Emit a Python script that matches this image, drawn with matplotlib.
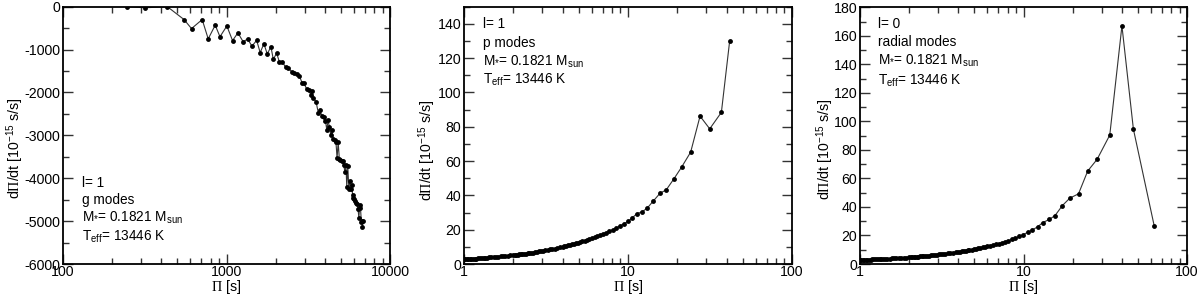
import matplotlib
matplotlib.use("Agg")
import matplotlib.pyplot as plt
from matplotlib.ticker import LogLocator, MultipleLocator, NullFormatter, FixedLocator, FixedFormatter

plt.rcParams['font.family'] = ['Liberation Sans', 'DejaVu Sans']
plt.rcParams['mathtext.fontset'] = 'custom'
plt.rcParams['mathtext.rm'] = 'Liberation Sans'
plt.rcParams['mathtext.sf'] = 'Liberation Serif'
plt.rcParams['mathtext.it'] = 'Liberation Sans:italic'
plt.rcParams['mathtext.default'] = 'regular'
plt.rcParams['axes.unicode_minus'] = False

# ---------------- data: panel 1 (l=1 g modes) ----------------
g_period = [248, 316, 435, 550, 611, 710, 773, 853, 912, 1005, 1089, 1174, 1266, 1346,
            1431, 1529, 1607, 1693, 1775, 1870, 1932, 2027, 2103, 2194, 2303, 2388, 2504,
            2599, 2700, 2788, 2895, 2979, 3095, 3199, 3275, 3336, 3398, 3530, 3647, 3735,
            3822, 3949, 4030, 4105, 4180, 4260, 4340, 4410, 4500, 4590, 4670, 4745, 4820,
            4900, 4980, 5060, 5140, 5220, 5300, 5380, 5440, 5520, 5600, 5680, 5760, 5840,
            5900, 5980, 6060, 6140, 6220, 6300, 6380, 6450, 6520, 6600, 6680, 6740, 6776,
            6873]
g_rate = [0, -25, 0, -300, -510, -300, -750, -430, -700, -450, -790, -610, -820, -750,
          -920, -785, -1070, -865, -1100, -935, -1225, -1085, -1280, -1285, -1415, -1430, -1515,
          -1540, -1575, -1610, -1770, -1790, -1920, -1945, -2060, -1965, -2135, -2215, -2485, -2410,
          -2540, -2580, -2660, -2870, -2650, -2800, -2990, -2880, -3090, -3120, -3150, -3530, -3160,
          -3550, -3580, -3600, -3590, -3700, -3860, -3690, -4210, -3720, -4250, -4060, -4240, -4150,
          -4390, -4470, -4480, -4520, -4580, -4600, -4720, -4930, -4620, -4700, -5010, -5000, -5140,
          -4990]

# ---------------- data: panel 2 (l=1 p modes) ----------------
p_period = [1.00, 1.02, 1.04, 1.06, 1.09, 1.11, 1.14, 1.16, 1.19, 1.22, 1.25, 1.28, 1.32,
            1.35, 1.39, 1.43, 1.47, 1.52, 1.56, 1.61, 1.67, 1.72, 1.79, 1.85, 1.92,
            2.00, 2.04, 2.08, 2.13, 2.17, 2.22, 2.27, 2.33, 2.38, 2.44, 2.50, 2.56, 2.63,
            2.70, 2.78, 2.86, 2.94, 3.03, 3.13, 3.23, 3.33, 3.45, 3.57, 3.70, 3.85,
            4.00, 4.10, 4.20, 4.31, 4.42, 4.55, 4.67, 4.81, 4.95, 5.10, 5.26, 5.43, 5.62,
            5.81, 6.02, 6.25, 6.49, 6.76, 7.04, 7.35, 7.69, 8.06, 8.47, 8.93, 9.43, 10.0,
            10.6, 11.3, 12.2, 13.1, 14.2, 15.7, 17.1, 19.1, 21.2, 24.1, 27.5, 31.5, 37.1, 41.7]
p_rate = [2.8, 2.8, 2.8, 2.9, 3.0, 3.0, 3.1, 3.1, 3.2, 3.3, 3.4, 3.4, 3.5,
          3.6, 3.7, 3.8, 3.9, 4.0, 4.1, 4.2, 4.4, 4.5, 4.7, 4.8, 5.0,
          5.2, 5.3, 5.4, 5.5, 5.6, 5.7, 5.9, 6.0, 6.1, 6.3, 6.4, 6.6, 6.7,
          6.9, 7.1, 7.3, 7.5, 7.7, 8.0, 8.2, 8.5, 8.8, 9.0, 9.4, 9.7,
          10.1, 10.3, 10.6, 10.9, 11.1, 11.4, 11.7, 12.1, 12.4, 12.8, 13.2, 13.6, 14.1,
          14.5, 15.0, 15.6, 16.2, 16.9, 17.5, 18.3, 19.1, 20.0, 21.0, 22.2, 23.4, 24.8,
          26.8, 29.3, 30.4, 32.6, 36.5, 41.3, 43.2, 49.8, 56.4, 65.2, 86.2, 78.8, 88.4, 130.2]

# ---------------- data: panel 3 (l=0 radial modes) ----------------
r_period = [1.00, 1.02, 1.04, 1.06, 1.09, 1.11, 1.14, 1.16, 1.19, 1.22, 1.25, 1.28, 1.32,
            1.35, 1.39, 1.43, 1.47, 1.52, 1.56, 1.61, 1.67, 1.72, 1.79, 1.85, 1.92,
            2.00, 2.04, 2.08, 2.13, 2.17, 2.22, 2.27, 2.33, 2.38, 2.44, 2.50, 2.56, 2.63,
            2.70, 2.78, 2.86, 2.94, 3.03, 3.13, 3.23, 3.33, 3.45, 3.57, 3.70, 3.85,
            4.00, 4.10, 4.20, 4.31, 4.42, 4.55, 4.67, 4.81, 4.95, 5.10, 5.26, 5.43, 5.62,
            5.81, 6.02, 6.25, 6.49, 6.76, 7.04, 7.35, 7.69, 8.06, 8.47, 8.93, 9.43, 9.9,
            10.6, 11.3, 12.2, 13.1, 14.4, 15.6, 17.3, 19.2, 21.7, 24.7, 28.2, 33.7, 40.0, 47.0, 63.0]
r_rate = [2.8, 2.8, 2.9, 2.9, 3.0, 3.0, 3.1, 3.1, 3.2, 3.2, 3.3, 3.3, 3.4,
          3.5, 3.5, 3.6, 3.7, 3.8, 3.9, 4.0, 4.1, 4.2, 4.3, 4.4, 4.5,
          4.7, 4.8, 4.9, 5.0, 5.0, 5.1, 5.2, 5.3, 5.4, 5.5, 5.7, 5.8, 5.9,
          6.0, 6.2, 6.3, 6.5, 6.7, 6.8, 7.0, 7.2, 7.5, 7.7, 7.9, 8.2,
          8.5, 8.7, 8.9, 9.1, 9.3, 9.5, 9.8, 10.0, 10.3, 10.6, 10.9, 11.2, 11.6,
          11.9, 12.3, 12.8, 13.2, 13.7, 14.3, 14.9, 15.6, 16.3, 17.2, 18.2, 19.3, 20.5,
          22.2, 23.8, 26.1, 29.0, 31.3, 34.0, 41.0, 46.2, 49.2, 65.2, 73.4, 90.4, 167.0, 94.6, 26.8]

g_text = ["l= 1", "g modes", "M$_{*}$= 0.1821 M$_{sun}$", "T$_{eff}$= 13446 K"]
p_text = ["l= 1", "p modes", "M$_{*}$= 0.1821 M$_{sun}$", "T$_{eff}$= 13446 K"]
r_text = ["l= 0", "radial modes", "M$_{*}$= 0.1821 M$_{sun}$", "T$_{eff}$= 13446 K"]

W, H = 1200, 296
fig = plt.figure(figsize=(W / 100, H / 100), dpi=100)

def px_axes(l, r, t, b):
    return fig.add_axes([l / W, 1 - b / H, (r - l) / W, (b - t) / H])

FS_TICK = 10.2
FS_LAB = 10.2
FS_TXT = 9.8
ylab = 'd$\\mathsf{\\Pi}$/dt [10$^{-15}$ s/s]'
xlab = '$\\mathsf{\\Pi}$ [s]'

def style(ax, xlim, ylim, ymajor, yminor, xticks, xticklabels):
    ax.set_xscale('log')
    ax.set_xlim(*xlim)
    ax.set_ylim(*ylim)
    ax.xaxis.set_major_locator(FixedLocator(xticks))
    ax.xaxis.set_major_formatter(FixedFormatter(xticklabels))
    ax.xaxis.set_minor_locator(LogLocator(base=10, subs=range(2, 10), numticks=20))
    ax.xaxis.set_minor_formatter(NullFormatter())
    ax.yaxis.set_major_locator(MultipleLocator(ymajor))
    ax.yaxis.set_minor_locator(MultipleLocator(yminor))
    ax.tick_params(which='both', direction='in', top=True, right=True, labelsize=FS_TICK,
                   width=1.0, color='#333333')
    ax.tick_params(axis='x', which='both', pad=0.5)
    ax.tick_params(axis='y', which='both', pad=2)
    ax.tick_params(which='major', length=7)
    ax.tick_params(which='minor', length=4)
    for s in ax.spines.values():
        s.set_linewidth(1.3)

def draw(ax, x, y):
    ax.plot(x, y, color='#333333', lw=0.8, marker='o', ms=3.5,
            mfc='black', mec='black', mew=0)

ax1 = px_axes(63, 390, 6.7, 264)
draw(ax1, g_period, g_rate)
style(ax1, (100, 10000), (-6000, 0), 1000, 500, [100, 1000, 10000], ['100', '1000', '10000'])

ax2 = px_axes(464, 792, 6.7, 264)
draw(ax2, p_period, p_rate)
style(ax2, (1, 100), (0, 150), 20, 10, [1, 10, 100], ['1', '10', '100'])

ax3 = px_axes(860, 1187, 7.3, 264)
draw(ax3, r_period, r_rate)
style(ax3, (1, 100), (0, 180), 20, 10, [1, 10, 100], ['1', '10', '100'])

def put(xpx, ypx_list, texts):
    for yp, s in zip(ypx_list, texts):
        fig.text(xpx / W, 1 - yp / H, s, fontsize=FS_TXT, va='center', ha='left')

def labels(ax_left, ax_right, ylabel_x, ylabel_y):
    cx = (ax_left + ax_right) / 2
    fig.text(cx / W, 1 - 295.5 / H, xlab, fontsize=FS_LAB, ha='center', va='bottom')
    fig.text(ylabel_x / W, 1 - ylabel_y / H, ylab, fontsize=FS_LAB, ha='center', va='center',
             rotation=90)

labels(63, 390, 15, 148)
labels(464, 792, 427, 150)
labels(860, 1187, 825, 149)

put(82, [183, 200, 218, 237], g_text)
put(483, [24, 43, 62, 80], p_text)
put(878, [24, 42, 61, 81], r_text)

fig.savefig('out.png', dpi=100)
